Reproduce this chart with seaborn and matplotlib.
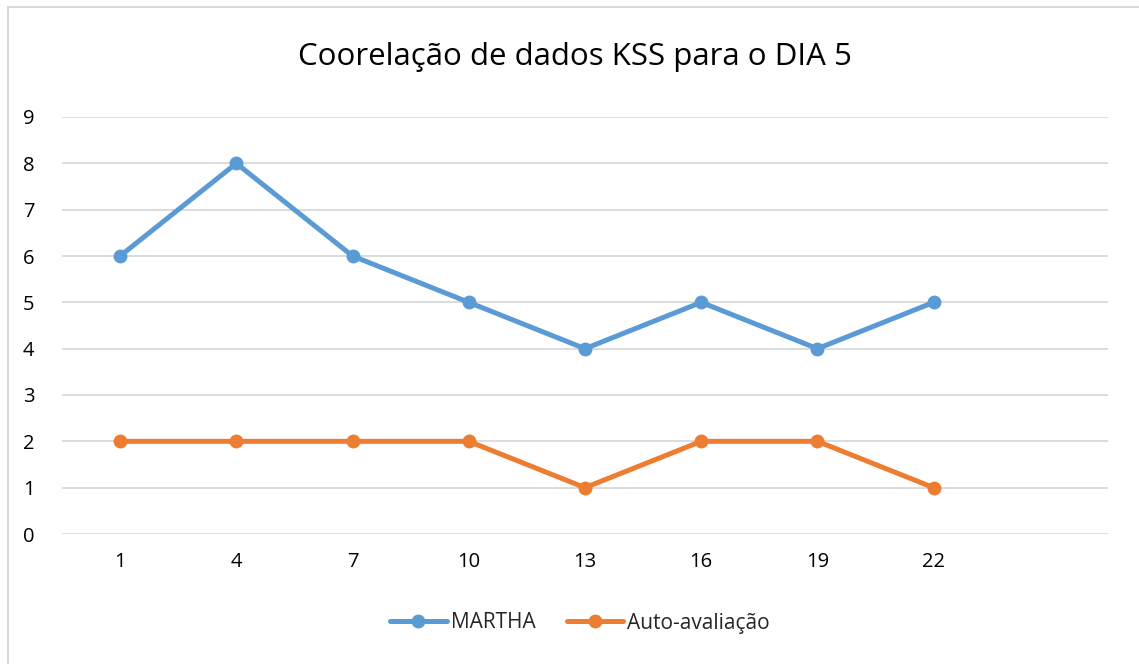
import matplotlib
matplotlib.use("Agg")
import matplotlib.pyplot as plt
import seaborn as sns
import pandas as pd
from matplotlib.patches import Rectangle
from matplotlib.lines import Line2D

categories = ["1", "4", "7", "10", "13", "16", "19", "22", ""]
martha = [6, 8, 6, 5, 4, 5, 4, 5]
auto_avaliacao = [2, 2, 2, 2, 1, 2, 2, 1]
series_names = ["MARTHA", "Auto-avaliação"]
title = "Coorelação de dados KSS para o DIA 5"

sns.set_theme(style="white")
plt.rcParams['font.family'] = ['Open Sans', 'DejaVu Sans']

W, H = 1139, 664
fig = plt.figure(figsize=(W / 100, H / 100), dpi=100)
ax = fig.add_axes([62 / W, 1 - 534 / H, (1108 - 62) / W, (534 - 117) / H])

rows = []
for name, vals in zip(series_names, [martha, auto_avaliacao]):
    for i, v in enumerate(vals):
        rows.append({"pos": i, "value": v, "serie": name})
df = pd.DataFrame(rows)

palette = {"MARTHA": "#5B9BD5", "Auto-avaliação": "#ED7D31"}
sns.lineplot(data=df, x="pos", y="value", hue="serie", palette=palette,
             marker="o", markersize=10, markeredgewidth=0, linewidth=3.6,
             ax=ax, legend=False)

ax.set_xlim(-0.5, len(categories) - 0.5)
ax.set_ylim(0, 9)
ax.set_xticks(range(len(categories)))
ax.set_xticklabels(categories)
ax.set_yticks(range(0, 10))
ax.set_xlabel("")
ax.set_ylabel("")
ax.grid(axis="y", color="#D9D9D9", linewidth=1.3)
ax.grid(axis="x", visible=False)
for s in ax.spines.values():
    s.set_visible(False)
ax.tick_params(axis="both", length=0, labelsize=14.5, colors="#000000")
ax.tick_params(axis="x", pad=13)
ax.tick_params(axis="y", pad=24)
for lab in ax.get_yticklabels():
    lab.set_horizontalalignment("center")
ax.set_axisbelow(True)

fig.text(575 / W, 1 - 57 / H, title, ha="center", va="center", fontsize=22.5, color="#000000")

handles = [Line2D([], [], color=palette[n], marker="o", markersize=10, markeredgewidth=0,
                  linewidth=3.6) for n in series_names]
fig.legend(handles, series_names, loc="center", bbox_to_anchor=(580 / W, 1 - 623 / H),
           ncol=2, frameon=False, fontsize=15, handlelength=2.7, columnspacing=1.5,
           handletextpad=0.2)

fig.patches.append(Rectangle((8 / W, -0.1), 1.2, 1 - 7 / H + 0.1, transform=fig.transFigure,
                             fill=False, edgecolor="#D9D9D9", linewidth=1.5))

fig.savefig("out.png", dpi=100)
